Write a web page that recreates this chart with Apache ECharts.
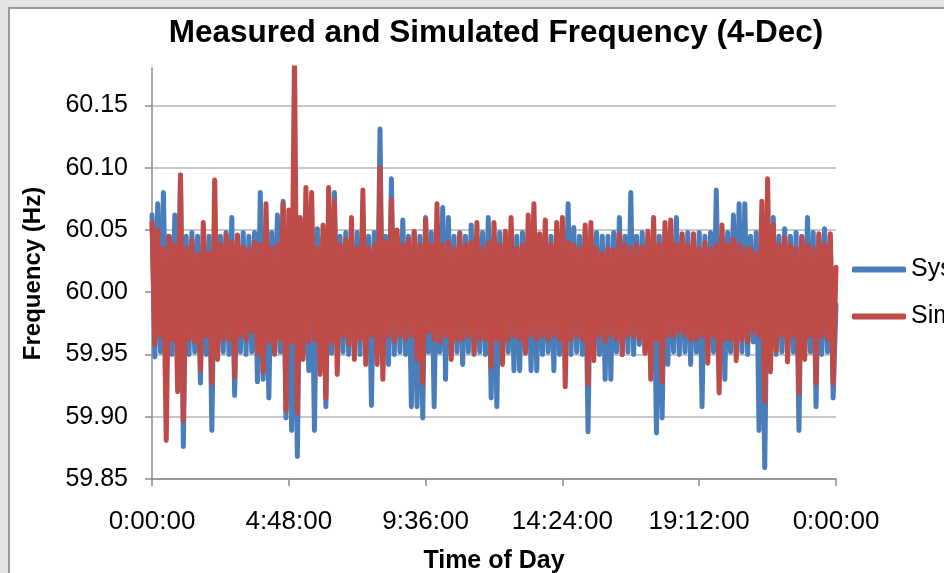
<!DOCTYPE html>
<html>
<head>
<meta charset="utf-8">
<script src="https://cdn.jsdelivr.net/npm/echarts@6/dist/echarts.min.js"></script>
<style>
  html, body { margin: 0; padding: 0; width: 944px; height: 573px; overflow: hidden; background: #e4e4e4; }
  #panel { position: absolute; left: 8px; top: 7px; width: 1000px; height: 600px; background: #ffffff; border-left: 2px solid #9a9a9a; border-top: 2px solid #9a9a9a; }
  #chart { position: absolute; left: 0; top: 0; width: 944px; height: 573px; }
</style>
</head>
<body>
<div id="panel"></div>
<div id="chart"></div>
<script>
// sampling step of both series, minutes from 0:00:00
const sampleMinutes = 6;

// System (measured) frequency, Hz
const measured = [
  60.062,59.948,60.071,59.952,60.080,59.955,60.045,59.950,60.062,59.952,
  60.094,59.876,60.045,59.950,60.048,59.952,60.045,59.927,60.048,59.950,
  60.045,59.889,60.048,59.950,60.045,59.952,60.048,59.950,60.060,59.917,
  60.045,59.952,60.048,59.950,60.045,59.952,60.048,59.928,60.080,59.930,
  60.045,59.915,60.048,59.950,60.062,59.952,60.073,59.899,60.048,59.889,
  60.060,59.868,60.050,59.950,60.045,59.937,60.048,59.889,60.051,59.945,
  60.045,59.908,60.048,59.951,60.080,59.950,60.045,59.952,60.048,59.950,
  60.045,59.952,60.048,59.950,60.062,59.952,60.045,59.909,60.048,59.950,
  60.131,59.942,60.045,59.942,60.091,59.950,60.045,59.952,60.058,59.950,
  60.045,59.908,60.048,59.908,60.045,59.899,60.060,59.952,60.048,59.908,
  60.045,59.952,60.068,59.930,60.060,59.950,60.045,59.952,60.048,59.942,
  60.045,59.952,60.054,59.950,60.045,59.952,60.048,59.950,60.060,59.915,
  60.045,59.908,60.048,59.950,60.045,59.952,60.048,59.937,60.045,59.937,
  60.048,59.952,60.045,59.937,60.048,59.937,60.045,59.950,60.048,59.952,
  60.045,59.937,60.048,59.950,60.045,59.952,60.071,59.950,60.052,59.952,
  60.045,59.950,60.048,59.888,60.045,59.952,60.048,59.950,60.045,59.930,
  60.045,59.930,60.048,59.952,60.060,59.950,60.045,59.952,60.080,59.950,
  60.045,59.958,60.048,59.952,60.045,59.950,60.048,59.887,60.045,59.899,
  60.048,59.942,60.045,59.952,60.060,59.950,60.045,59.952,60.048,59.942,
  60.045,59.952,60.048,59.908,60.045,59.950,60.048,59.952,60.082,59.950,
  60.045,59.930,60.048,59.952,60.062,59.950,60.071,59.952,60.071,59.950,
  60.045,59.960,60.048,59.889,60.045,59.859,60.048,59.952,60.060,59.950,
  60.045,59.952,60.051,59.950,60.045,59.952,60.048,59.889,60.045,59.950,
  60.060,59.952,60.048,59.908,60.045,59.950,60.051,59.952,60.045,59.915,
  59.990
];

// Simulated frequency, Hz
const simulated = [
  60.056,59.958,60.050,59.965,60.035,59.881,60.045,59.962,60.038,59.920,
  60.094,59.897,60.035,59.962,60.042,59.960,60.030,59.937,60.056,59.965,
  60.031,59.927,60.090,59.946,60.038,59.962,60.046,59.962,60.040,59.932,
  60.046,59.965,60.036,59.962,60.035,59.968,60.040,59.951,60.038,59.936,
  60.071,59.960,60.035,59.951,60.038,59.962,60.071,59.905,60.066,59.960,
  60.190,59.903,60.060,59.946,60.084,59.960,60.080,59.962,60.035,59.934,
  60.054,59.915,60.084,59.960,60.073,59.934,60.038,59.965,60.042,59.958,
  60.060,59.946,60.035,59.962,60.082,59.942,60.035,59.965,60.038,59.942,
  60.100,59.930,60.040,59.965,60.074,59.960,60.050,59.965,60.038,59.962,
  60.042,59.965,60.049,59.946,60.038,59.927,60.058,59.968,60.038,59.962,
  60.071,59.960,60.038,59.965,60.040,59.946,60.035,59.962,60.047,59.962,
  60.038,59.965,60.040,59.951,60.056,59.962,60.035,59.962,60.040,59.940,
  60.056,59.962,60.038,59.942,60.049,59.962,60.060,59.965,60.035,59.962,
  60.038,59.951,60.062,59.965,60.071,59.962,60.047,59.965,60.058,59.962,
  60.038,59.965,60.056,59.962,60.060,59.924,60.040,59.962,60.038,59.965,
  60.035,59.962,60.054,59.926,60.056,59.945,60.035,59.965,60.031,59.960,
  60.035,59.965,60.034,59.962,60.047,59.950,60.038,59.965,60.035,59.965,
  60.038,59.962,60.036,59.951,60.049,59.930,60.060,59.962,60.038,59.928,
  60.056,59.965,60.058,59.965,60.038,59.968,60.047,59.965,60.038,59.962,
  60.047,59.962,60.035,59.965,60.040,59.943,60.035,59.965,60.038,59.919,
  60.054,59.962,60.038,59.962,60.042,59.945,60.038,59.962,60.035,59.960,
  60.035,59.968,60.031,59.965,60.073,59.912,60.091,59.936,60.054,59.953,
  60.038,59.965,60.044,59.944,60.038,59.965,60.035,59.919,60.044,59.946,
  60.038,59.965,60.035,59.927,60.047,59.965,60.038,59.962,60.047,59.927,
  60.020
];

const seriesNames = ['System Frequency', 'Simulated Frequency'];
const yTicks = { min: 59.85, max: 60.18, step: 0.05 };
const xTicks = { min: 0, max: 1440, step: 288 }; // minutes, labelled h:mm:00

const toPairs = arr => arr.map((v, i) => [i * sampleMinutes, v]);
const fmtTime = v => {
  const m = Math.round(v) % 1440;
  const h = Math.floor(m / 60);
  const mm = m % 60;
  return h + ':' + (mm < 10 ? '0' : '') + mm + ':00';
};

const chart = echarts.init(document.getElementById('chart'), null, { renderer: 'canvas' });
const FONT = '"Liberation Sans", Arial, sans-serif';
const gridColor = '#b4b4b4';

chart.setOption({
  animation: false,
  backgroundColor: 'transparent',
  textStyle: { fontFamily: FONT },
  title: {
    text: 'Measured and Simulated Frequency (4-Dec)',
    left: 491, top: 12, textAlign: 'center',
    textStyle: { fontFamily: FONT, fontSize: 31.5, fontWeight: 'bold', color: '#000' }
  },
  legend: {
    orient: 'vertical', left: 847, top: 252,
    itemWidth: 54, itemHeight: 6, itemGap: 22,
    icon: 'roundRect',
    textStyle: { fontFamily: FONT, fontSize: 25, color: '#000', padding: [0, 0, 0, 0] },
    data: seriesNames
  },
  grid: { left: 152, right: 108, top: 68, bottom: 94, containLabel: false, outerBoundsMode: 'none' },
  xAxis: {
    type: 'value', min: xTicks.min, max: xTicks.max, interval: xTicks.step,
    name: 'Time of Day', nameLocation: 'middle', nameGap: 70,
    nameTextStyle: { fontFamily: FONT, fontSize: 25, fontWeight: 'bold', color: '#000' },
    axisLine: { show: true, lineStyle: { color: '#8c8c8c', width: 1.5 } },
    axisTick: { show: true, inside: false, length: 7, lineStyle: { color: '#8c8c8c', width: 1.5 } },
    axisLabel: { margin: 30, fontFamily: FONT, fontSize: 26, color: '#000', formatter: fmtTime },
    splitLine: { show: false }
  },
  yAxis: {
    type: 'value', min: yTicks.min, max: yTicks.max, interval: yTicks.step,
    name: 'Frequency (Hz)', nameLocation: 'middle', nameGap: 107, nameRotate: 90,
    nameTextStyle: { fontFamily: FONT, fontSize: 24, fontWeight: 'bold', color: '#000' },
    axisLine: { show: true, lineStyle: { color: '#8c8c8c', width: 1.5 } },
    axisTick: { show: true, inside: false, length: 7, lineStyle: { color: '#8c8c8c', width: 1.5 } },
    axisLabel: { margin: 24, fontFamily: FONT, fontSize: 25, color: '#000',
                 showMaxLabel: false, formatter: v => v.toFixed(2) },
    splitLine: { show: true, lineStyle: { width: 1.5,
      color: [gridColor, gridColor, gridColor, gridColor, gridColor, gridColor, gridColor, 'rgba(0,0,0,0)'] } }
  },
  series: [
    {
      name: seriesNames[0], type: 'line', data: toPairs(measured),
      showSymbol: false, symbol: 'none', clip: true,
      itemStyle: { color: '#4a7ebb' },
      lineStyle: { color: '#4a7ebb', width: 5, cap: 'round', join: 'round' },
      z: 2
    },
    {
      name: seriesNames[1], type: 'line', data: toPairs(simulated),
      showSymbol: false, symbol: 'none', clip: true,
      itemStyle: { color: '#be4b48' },
      lineStyle: { color: '#be4b48', width: 5, cap: 'round', join: 'round' },
      z: 3
    }
  ]
});
</script>
</body>
</html>
